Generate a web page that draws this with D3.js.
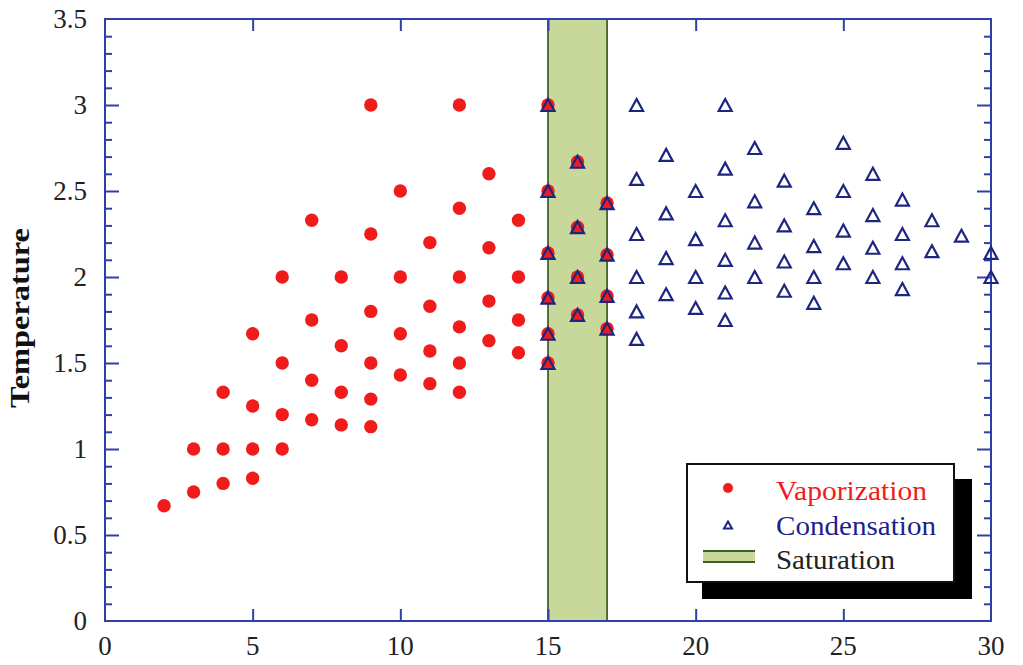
<!DOCTYPE html>
<html>
<head>
<meta charset="utf-8">
<script src="https://cdn.jsdelivr.net/npm/d3@7"></script>
<style>
  html, body { margin: 0; padding: 0; background: #fff; }
  svg { display: block; }
  text { font-family: "Liberation Serif", "Times New Roman", serif; }
</style>
</head>
<body>
<svg id="chart" width="1023" height="665"></svg>
<script>
// Vaporization points: [x, temperature]
const vaporization = [
  [2, 0.67],
  [3, 0.75], [3, 1.0],
  [4, 0.8], [4, 1.0], [4, 1.33],
  [5, 0.83], [5, 1.0], [5, 1.25], [5, 1.67],
  [6, 1.0], [6, 1.2], [6, 1.5], [6, 2.0],
  [7, 1.17], [7, 1.4], [7, 1.75], [7, 2.33],
  [8, 1.14], [8, 1.33], [8, 1.6], [8, 2.0],
  [9, 1.13], [9, 1.29], [9, 1.5], [9, 1.8], [9, 2.25], [9, 3.0],
  [10, 1.43], [10, 1.67], [10, 2.0], [10, 2.5],
  [11, 1.38], [11, 1.57], [11, 1.83], [11, 2.2],
  [12, 1.33], [12, 1.5], [12, 1.71], [12, 2.0], [12, 2.4], [12, 3.0],
  [13, 1.63], [13, 1.86], [13, 2.17], [13, 2.6],
  [14, 1.56], [14, 1.75], [14, 2.0], [14, 2.33],
  [15, 1.5], [15, 1.67], [15, 1.88], [15, 2.14], [15, 2.5], [15, 3.0],
  [16, 1.78], [16, 2.0], [16, 2.29], [16, 2.67],
  [17, 1.7], [17, 1.89], [17, 2.13], [17, 2.43]
];

// Condensation points: [x, temperature]
const condensation = [
  [15, 1.5], [15, 1.67], [15, 1.88], [15, 2.14], [15, 2.5], [15, 3.0],
  [16, 1.78], [16, 2.0], [16, 2.29], [16, 2.67],
  [17, 1.7], [17, 1.89], [17, 2.13], [17, 2.43],
  [18, 1.64], [18, 1.8], [18, 2.0], [18, 2.25], [18, 2.57], [18, 3.0],
  [19, 1.9], [19, 2.11], [19, 2.37], [19, 2.71],
  [20, 1.82], [20, 2.0], [20, 2.22], [20, 2.5],
  [21, 1.75], [21, 1.91], [21, 2.1], [21, 2.33], [21, 2.63], [21, 3.0],
  [22, 2.0], [22, 2.2], [22, 2.44], [22, 2.75],
  [23, 1.92], [23, 2.09], [23, 2.3], [23, 2.56],
  [24, 1.85], [24, 2.0], [24, 2.18], [24, 2.4],
  [25, 2.08], [25, 2.27], [25, 2.5], [25, 2.78],
  [26, 2.0], [26, 2.17], [26, 2.36], [26, 2.6],
  [27, 1.93], [27, 2.08], [27, 2.25], [27, 2.45],
  [28, 2.15], [28, 2.33],
  [29, 2.24],
  [30, 2.0], [30, 2.14]
];

// Saturation band range on the x axis
const saturation = [15, 17];

// Axis ticks
const xTicks = [0, 5, 10, 15, 20, 25, 30];
const yTicks = [0, 0.5, 1, 1.5, 2, 2.5, 3, 3.5];
const yMinorTicks = d3.range(0, 35).map(i => i / 10);

const legendItems = ["Vaporization", "Condensation", "Saturation"];
const yLabel = "Temperature";

const svg = d3.select("#chart");
const M = { left: 105, right: 991, top: 19, bottom: 621 };

const x = d3.scaleLinear().domain([0, 30]).range([M.left, M.right]);
const y = d3.scaleLinear().domain([0, 3.5]).range([M.bottom, M.top]);

const axisColor = "#2f3fa8";
const redColor = "#f01c1c";
const navy = "#1c2680";

// Saturation band
svg.append("rect")
  .attr("x", x(saturation[0]))
  .attr("y", M.top)
  .attr("width", x(saturation[1]) - x(saturation[0]))
  .attr("height", M.bottom - M.top)
  .attr("fill", "#c8d79a");
saturation.forEach(v => {
  svg.append("line")
    .attr("x1", x(v)).attr("x2", x(v))
    .attr("y1", M.top).attr("y2", M.bottom)
    .attr("stroke", "#44632a").attr("stroke-width", 1.8);
});

// Axes with inward ticks on all four sides
const axisG = svg.append("g");
function styleAxis(g) {
  g.select(".domain").remove();
  g.selectAll(".tick line").attr("stroke", axisColor).attr("stroke-width", 2);
  g.selectAll(".tick text").remove();
}
axisG.append("g").attr("transform", `translate(0,${M.bottom})`)
  .call(d3.axisBottom(x).tickValues(xTicks.slice(1, -1)).tickSizeInner(-12).tickSizeOuter(0)).call(styleAxis);
axisG.append("g").attr("transform", `translate(0,${M.top})`)
  .call(d3.axisTop(x).tickValues(xTicks.slice(1, -1)).tickSizeInner(-12).tickSizeOuter(0)).call(styleAxis);
[["left", M.left, d3.axisLeft], ["right", M.right, d3.axisRight]].forEach(([side, pos, ax]) => {
  axisG.append("g").attr("transform", `translate(${pos},0)`)
    .call(ax(y).tickValues(yMinorTicks.filter(v => Math.round(v * 10) % 5 !== 0 && v > 0)).tickSizeInner(-7).tickSizeOuter(0)).call(styleAxis);
  axisG.append("g").attr("transform", `translate(${pos},0)`)
    .call(ax(y).tickValues(yTicks.slice(1, -1)).tickSizeInner(-14).tickSizeOuter(0)).call(styleAxis);
});

// Frame
svg.append("rect")
  .attr("x", M.left).attr("y", M.top)
  .attr("width", M.right - M.left).attr("height", M.bottom - M.top)
  .attr("fill", "none").attr("stroke", axisColor).attr("stroke-width", 2);

// Tick labels
svg.append("g").selectAll("text").data(xTicks).join("text")
  .attr("x", d => x(d)).attr("y", 655)
  .attr("text-anchor", "middle")
  .attr("font-size", 27).attr("fill", "#222")
  .text(d => d);
svg.append("g").selectAll("text").data(yTicks).join("text")
  .attr("x", 87).attr("y", d => y(d) + 9)
  .attr("text-anchor", "end")
  .attr("font-size", 27).attr("fill", "#222")
  .text(d => d);

// Axis title
svg.append("text")
  .attr("transform", `translate(29,318) rotate(-90)`)
  .attr("text-anchor", "middle")
  .attr("font-size", 27).attr("font-weight", "bold").attr("fill", "#111")
  .attr("textLength", 180).attr("lengthAdjust", "spacingAndGlyphs")
  .text(yLabel);

// Triangle path, centred on its bounding box
function triPath(w, h) {
  return `M0,${-h / 2} L${w / 2},${h / 2} L${-w / 2},${h / 2} Z`;
}

// Vaporization markers
svg.append("g").selectAll("circle").data(vaporization).join("circle")
  .attr("cx", d => x(d[0])).attr("cy", d => y(d[1]))
  .attr("r", 6.7).attr("fill", redColor);

// Condensation markers
svg.append("g").selectAll("path").data(condensation).join("path")
  .attr("transform", d => `translate(${x(d[0])},${y(d[1])})`)
  .attr("d", triPath(13, 12))
  .attr("fill", "none").attr("stroke", navy).attr("stroke-width", 2.2)
  .attr("stroke-linejoin", "miter");

// Legend
const lg = svg.append("g");
lg.append("rect").attr("x", 702).attr("y", 479).attr("width", 270).attr("height", 120).attr("fill", "#000");
lg.append("rect").attr("x", 687).attr("y", 464).attr("width", 267).attr("height", 118)
  .attr("fill", "#fff").attr("stroke", "#111").attr("stroke-width", 2);

lg.append("circle").attr("cx", 728).attr("cy", 488).attr("r", 5).attr("fill", redColor);
lg.append("path").attr("transform", "translate(728,525)").attr("d", triPath(8, 7))
  .attr("fill", "none").attr("stroke", navy).attr("stroke-width", 2);
lg.append("rect").attr("x", 703).attr("y", 551).attr("width", 52).attr("height", 11)
  .attr("fill", "#c8d79a");
[551, 562].forEach(yy => lg.append("line").attr("x1", 703).attr("x2", 755).attr("y1", yy).attr("y2", yy)
  .attr("stroke", "#3f5f22").attr("stroke-width", 2));

const legendColors = [redColor, "#1d1f8e", "#222"];
const legendWidths = [151, 160, 119];
lg.selectAll("text.lbl").data(legendItems).join("text")
  .attr("class", "lbl")
  .attr("x", 776).attr("y", (d, i) => 500 + i * 34.5)
  .attr("font-size", 27)
  .attr("textLength", (d, i) => legendWidths[i]).attr("lengthAdjust", "spacingAndGlyphs")
  .attr("fill", (d, i) => legendColors[i])
  .text(d => d);
</script>
</body>
</html>
